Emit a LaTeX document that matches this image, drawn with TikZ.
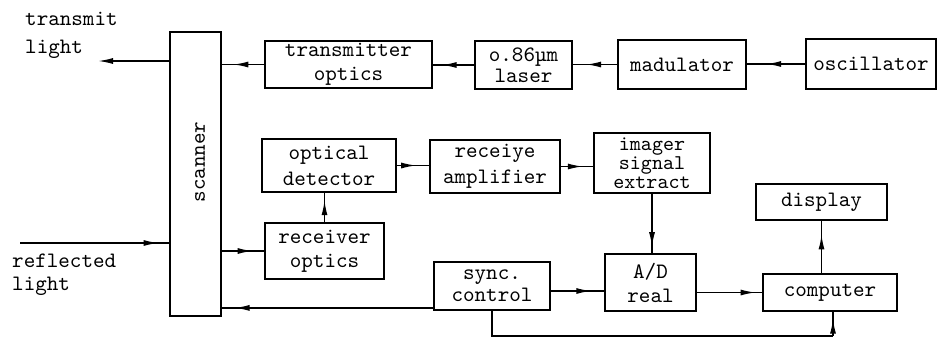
\documentclass[tikz,border=0pt]{standalone}
\usepackage{fontspec}
\newfontfamily\tw{lmmono10-regular.otf}
\usetikzlibrary{arrows.meta,decorations.markings}
\begin{document}
\begin{tikzpicture}[x=1pt,y=-1pt,
  box/.style={draw,line width=1.8pt,inner sep=0pt,align=center,font=\tw\fontsize{22}{24}\selectfont},
  lbl/.style={inner sep=0pt,align=left,font=\tw\fontsize{22}{24}\selectfont},
  conn/.style={line width=1.5pt},
  ma/.style={conn,postaction={decorate},decoration={markings,mark=at position #1 with {\arrow{Latex[length=15pt,width=6pt]}}}},
  endarrow/.style={conn,-{Latex[length=15pt,width=6pt]}}
]
\useasboundingbox (0,0) rectangle (939,338);

% boxes
\node[box,minimum width=51pt,minimum height=284pt] (scanner) at (195.5,174) {};
\node[lbl,rotate=90] (scanlbl) at (200,162) {scanner};
\node[box,minimum width=167pt,minimum height=47pt] (txopt) at (348.5,64.5) {transmitter\\optics};
\node[box,minimum width=97pt,minimum height=48pt,font=\tw\fontsize{22}{21}\selectfont] (laser) at (523.5,65) {o.86µm\\laser};
\node[box,minimum width=128pt,minimum height=49pt] (mod) at (682,64.5) {madulator};
\node[box,minimum width=130pt,minimum height=50pt] (osc) at (871,64) {oscillator};
\node[box,minimum width=134pt,minimum height=53pt,font=\tw\fontsize{22}{26}\selectfont] (optdet) at (329,165.5) {optical\\detector};
\node[box,minimum width=130pt,minimum height=53pt,font=\tw\fontsize{22}{26}\selectfont] (amp) at (495,166.5) {receiye\\amplifier};
\node[box,minimum width=116pt,minimum height=60pt,font=\tw\fontsize{21}{19}\selectfont] (imager) at (652,163) {imager\\signal\\extract};
\node[box,minimum width=131pt,minimum height=36pt] (display) at (821.5,202) {display};
\node[box,minimum width=119pt,minimum height=56pt] (rxopt) at (324.5,251) {receiver\\optics};
\node[box,minimum width=116pt,minimum height=48pt,font=\tw\fontsize{22}{22}\selectfont] (sync) at (492,286) {sync.\\control};
\node[box,minimum width=91pt,minimum height=57pt] (ad) at (650.5,282.5) {A/D\\real};
\node[box,minimum width=134pt,minimum height=37pt] (comp) at (830,292.5) {computer};

% free labels
\node[lbl,anchor=west,font=\tw\fontsize{22}{28}\selectfont] (tlab) at (25,35) {transmit\\light};
\node[lbl,anchor=west,font=\tw\fontsize{22}{23}\selectfont] (rlab) at (12,275) {reflected\\light};

% coordinates for free ends
\coordinate (tl) at (98,61);
\coordinate (rl) at (20,243);
\coordinate (bot) at (833,336);
\coordinate (syncl) at ([yshift=3pt]sync.south west);

% top row
\draw[endarrow] (scanner.west |- tl) -- (tl);
\draw[ma=0.73] (txopt.west) -- (txopt.west -| scanner.east);
\draw[ma=0.79] (laser.west) -- (laser.west -| txopt.east);
\draw[ma=0.7] (mod.west) -- (mod.west -| laser.east);
\draw[ma=0.67] (osc.west) -- (osc.west -| mod.east);

% receive chain
\draw[ma=0.93] (rl) -- (rl -| scanner.west);
\draw[ma=0.73] (rxopt.west -| scanner.east) -- (rxopt.west);
\draw[ma=0.75] (rxopt.north) -- (rxopt.north |- optdet.south);
\draw[ma=0.6] (optdet.east) -- (optdet.east -| amp.west);
\draw[ma=0.68] (amp.east) -- (amp.east -| imager.west);
\draw[ma=0.9] (imager.south) -- (imager.south |- ad.north);

% bottom row
\draw[ma=0.76] ([yshift=-5pt]sync.east) -- ([yshift=-5pt]sync.east -| ad.west);
\draw[ma=0.9] (ad.east |- comp.west) -- (comp.west);
\draw[ma=0.74] (comp.north -| display.south) -- (display.south);
\draw[ma=0.94] (syncl) -- (syncl -| scanner.east);
\draw[conn] (sync.south) |- (bot);
\draw[ma=0.72] (bot) -- (bot |- comp.south);
\end{tikzpicture}
\end{document}
